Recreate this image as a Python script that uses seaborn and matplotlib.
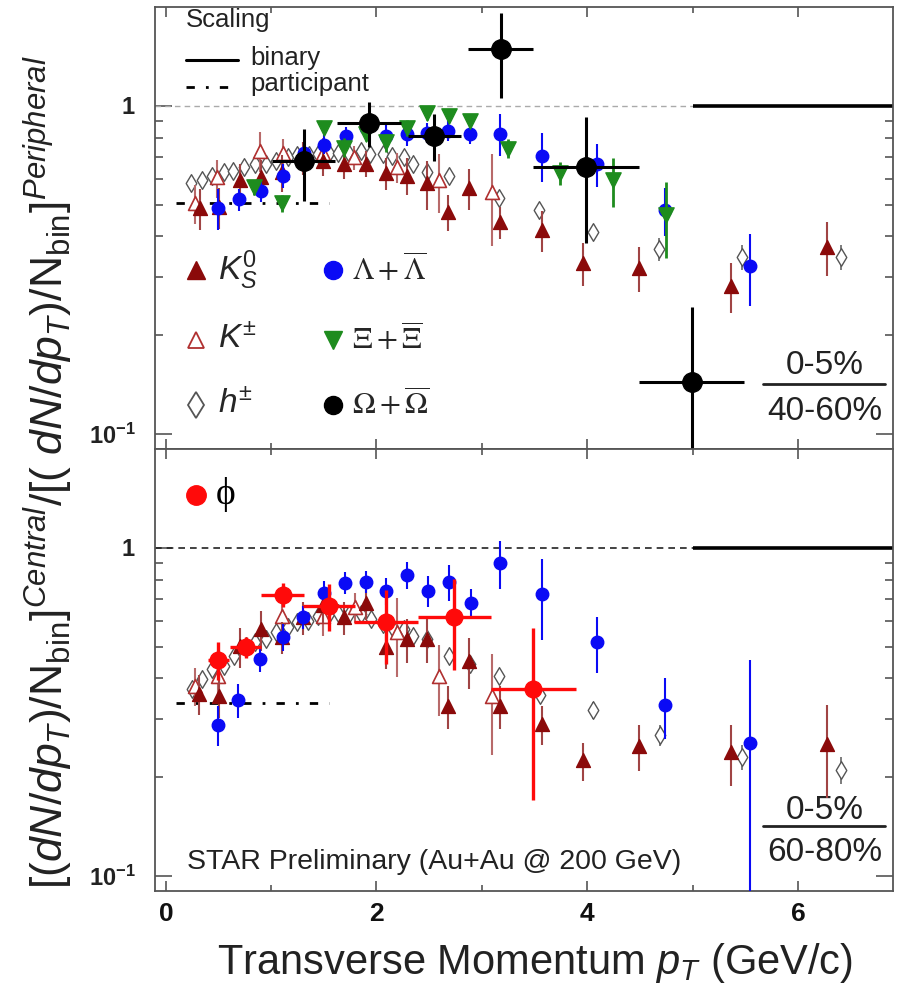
import numpy as np
import pandas as pd
import matplotlib
matplotlib.use("Agg")
import matplotlib.pyplot as plt
import seaborn as sns
from matplotlib.ticker import FixedLocator, FixedFormatter, NullFormatter

# ---------------- data: top panel (0-5% / 40-60%) ----------------
t_k0s_x = [0.33, 0.51, 0.71, 0.91, 1.10, 1.30, 1.49, 1.69, 1.90, 2.09, 2.29, 2.48, 2.68, 2.88, 3.17, 3.57, 3.96, 4.49, 5.36, 6.27]
t_k0s_y = [0.488, 0.49, 0.593, 0.605, 0.627, 0.696, 0.681, 0.667, 0.667, 0.622, 0.613, 0.58, 0.474, 0.56, 0.442, 0.418, 0.332, 0.321, 0.283, 0.372]
t_k0s_e = [0.07, 0.07, 0.07, 0.08, 0.08, 0.08, 0.07, 0.07, 0.06, 0.07, 0.08, 0.10, 0.06, 0.08, 0.05, 0.06, 0.05, 0.05, 0.05, 0.07]

t_kpm_x = [0.28, 0.49, 0.90, 1.11, 1.49, 1.79, 2.20, 2.59, 3.10]
t_kpm_y = [0.505, 0.605, 0.73, 0.72, 0.72, 0.696, 0.65, 0.593, 0.545]
t_kpm_e = [0.07, 0.08, 0.10, 0.07, 0.08, 0.06, 0.07, 0.12, 0.17]

t_h_x = [0.24, 0.35, 0.44, 0.55, 0.64, 0.74, 0.85, 0.95, 1.05, 1.16, 1.25, 1.36, 1.45, 1.55, 1.64, 1.73, 1.85, 1.94, 2.06, 2.15,
         2.26, 2.35, 2.48, 2.69, 3.16, 3.54, 4.05, 4.68, 5.47, 6.41]
t_h_y = [0.58, 0.593, 0.613, 0.627, 0.635, 0.649, 0.667, 0.667, 0.681, 0.696, 0.71, 0.71, 0.715, 0.72, 0.72, 0.725, 0.73, 0.715, 0.715, 0.705,
         0.696, 0.667, 0.627, 0.609, 0.523, 0.481, 0.413, 0.366, 0.346, 0.346]
t_h_e = [0.01] * 24 + [0.02, 0.02, 0.02, 0.03, 0.03, 0.03]

t_lam_x = [0.50, 0.70, 0.91, 1.11, 1.31, 1.50, 1.71, 1.90, 2.09, 2.29, 2.48, 2.68, 2.89, 3.17, 3.57, 4.09, 4.74, 5.54]
t_lam_y = [0.488, 0.519, 0.549, 0.613, 0.72, 0.762, 0.811, 0.858, 0.811, 0.823, 0.828, 0.84, 0.823, 0.823, 0.705, 0.667, 0.481, 0.326]
t_lam_e = [0.07, 0.04, 0.04, 0.05, 0.05, 0.05, 0.05, 0.05, 0.06, 0.07, 0.06, 0.06, 0.06, 0.12, 0.12, 0.10, 0.08, 0.08]

t_xi_x = [0.84, 1.10, 1.50, 1.69, 1.90, 2.09, 2.29, 2.48, 2.69, 2.89, 3.25, 3.74, 4.24, 4.75]
t_xi_y = [0.564, 0.505, 0.858, 0.746, 0.823, 0.773, 0.858, 0.952, 0.933, 0.901, 0.741, 0.622, 0.593, 0.464]
t_xi_e = [0.03, 0.03, 0.04, 0.05, 0.04, 0.05, 0.05, 0.05, 0.04, 0.04, 0.05, 0.05, 0.10, 0.12]

t_om_x = [1.31, 1.93, 2.55, 3.18, 3.99, 4.99]
t_om_y = [0.681, 0.888, 0.811, 1.489, 0.653, 0.144]
t_om_xe = [0.30, 0.30, 0.25, 0.31, 0.50, 0.50]
t_om_ye = [0.17, 0.14, 0.13, 0.43, 0.27, 0.10]

# ---------------- data: bottom panel (0-5% / 60-80%) ----------------
b_k0s_x = [0.32, 0.51, 0.71, 0.91, 1.10, 1.30, 1.49, 1.69, 1.90, 2.09, 2.29, 2.48, 2.68, 2.88, 3.17, 3.57, 3.96, 4.49, 5.36, 6.27]
b_k0s_y = [0.359, 0.354, 0.501, 0.564, 0.534, 0.614, 0.671, 0.614, 0.681, 0.498, 0.526, 0.526, 0.33, 0.451, 0.33, 0.29, 0.225, 0.249, 0.238, 0.253]
b_k0s_e = [0.05, 0.05, 0.07, 0.08, 0.06, 0.07, 0.08, 0.07, 0.08, 0.07, 0.08, 0.08, 0.05, 0.08, 0.05, 0.04, 0.03, 0.04, 0.05, 0.08]

b_kpm_x = [0.28, 0.50, 1.10, 1.49, 1.80, 2.20, 2.59, 3.10]
b_kpm_y = [0.38, 0.407, 0.618, 0.62, 0.66, 0.553, 0.407, 0.354]
b_kpm_e = [0.05, 0.06, 0.08, 0.08, 0.07, 0.15, 0.10, 0.12]

b_h_x = [0.25, 0.35, 0.44, 0.55, 0.65, 0.76, 0.85, 0.95, 1.05, 1.16, 1.25, 1.35, 1.45, 1.55, 1.64, 1.74, 1.85, 1.95, 2.06, 2.15,
         2.26, 2.35, 2.48, 2.69, 2.89, 3.16, 3.55, 4.05, 4.69, 5.47, 6.41]
b_h_y = [0.371, 0.398, 0.427, 0.436, 0.467, 0.501, 0.515, 0.526, 0.553, 0.572, 0.593, 0.597, 0.618, 0.627, 0.635, 0.627, 0.627, 0.605, 0.584, 0.572,
         0.564, 0.538, 0.526, 0.467, 0.442, 0.407, 0.356, 0.32, 0.269, 0.231, 0.21]
b_h_e = [0.01] * 25 + [0.02, 0.02, 0.02, 0.02, 0.02, 0.02]

b_lam_x = [0.50, 0.69, 0.90, 1.11, 1.30, 1.50, 1.70, 1.90, 2.09, 2.29, 2.49, 2.69, 2.90, 3.17, 3.57, 4.09, 4.74, 5.54]
b_lam_y = [0.289, 0.344, 0.458, 0.534, 0.614, 0.73, 0.783, 0.789, 0.741, 0.828, 0.741, 0.789, 0.681, 0.901, 0.725, 0.515, 0.332, 0.255]
b_lam_elo = [0.04, 0.04, 0.04, 0.05, 0.05, 0.06, 0.06, 0.06, 0.07, 0.08, 0.08, 0.10, 0.07, 0.15, 0.20, 0.10, 0.07, 0.25]
b_lam_ehi = [0.04, 0.04, 0.04, 0.05, 0.05, 0.06, 0.06, 0.06, 0.07, 0.08, 0.08, 0.10, 0.07, 0.15, 0.20, 0.10, 0.07, 0.20]

b_phi_x = [0.50, 0.76, 1.11, 1.55, 2.09, 2.74, 3.49]
b_phi_y = [0.455, 0.498, 0.72, 0.667, 0.593, 0.614, 0.371]
b_phi_xe = [0.10, 0.15, 0.20, 0.25, 0.30, 0.35, 0.40]
b_phi_ye = [0.06, 0.035, 0.06, 0.11, 0.15, 0.19, 0.20]

participant_top = 0.505
participant_bot = 0.337
participant_x = [0.1, 1.55]
binary_x = [5.0, 6.9]
dashed_x = [-0.1, 5.0]

x_major = [0, 2, 4, 6]
x_major_labels = [r"$\mathbf{0}$", r"$\mathbf{2}$", r"$\mathbf{4}$", r"$\mathbf{6}$"]
y_major = [0.1, 1.0]
y_major_labels = [r"$\mathbf{10^{-1}}$", r"$\mathbf{1}$"]

# ---------------- style ----------------
sns.set_theme(style="ticks")
plt.rcParams["font.family"] = ["Liberation Sans", "DejaVu Sans"]
plt.rcParams["mathtext.fontset"] = "custom"
plt.rcParams["mathtext.rm"] = "Liberation Sans"
plt.rcParams["mathtext.it"] = "Liberation Sans:italic"
plt.rcParams["mathtext.bf"] = "Liberation Sans:bold"

C_K0S = "#8B0A0A"
C_K0S_E = "#A04444"
C_KPM = "#B03030"
C_KPM_E = "#B86A6A"
C_H = "#555555"
C_LAM = "#0A0AF5"
C_XI = "#1E8C1E"
C_PHI = "#FF0A0A"
SPINE = "#555555"
TXT = "#222222"

fig = plt.figure(figsize=(8.97, 9.94), dpi=100)
W, H = 897.0, 994.0
ax_t = fig.add_axes([155 / W, 1 - 449 / H, 738 / W, 442 / H])
ax_b = fig.add_axes([155 / W, 1 - 891 / H, 738 / W, 442 / H])


def series(ax, x, y, yerr, marker, fc, ec, ecol, ms, lw_e=1.5, xerr=None, z=3, mew=1.0):
    ax.errorbar(x, y, yerr=yerr, xerr=xerr, fmt="none", ecolor=ecol, elinewidth=lw_e, capsize=0, zorder=z)
    sns.scatterplot(x=x, y=y, ax=ax, marker=marker, s=ms ** 2, color=fc, edgecolor=ec,
                    linewidth=mew, zorder=z + 0.5, legend=False)


for ax in (ax_t, ax_b):
    ax.set_yscale("log")
    ax.set_xlim(-0.1, 6.9)
    ax.set_ylim(0.09, 2.0)
    for s in ax.spines.values():
        s.set_color(SPINE)
        s.set_linewidth(1.3)
    ax.xaxis.set_major_locator(FixedLocator(x_major))
    ax.xaxis.set_major_formatter(FixedFormatter(x_major_labels))
    ax.xaxis.set_minor_locator(FixedLocator([1, 3, 5]))
    ax.yaxis.set_major_locator(FixedLocator(y_major))
    ax.yaxis.set_minor_locator(FixedLocator([0.2, 0.3, 0.4, 0.5, 0.6, 0.7, 0.8, 0.9]))
    ax.yaxis.set_major_formatter(FixedFormatter(y_major_labels))
    ax.yaxis.set_minor_formatter(NullFormatter())
    ax.tick_params(axis="x", which="both", direction="in", top=True, bottom=True, color=SPINE, width=1.2)
    ax.tick_params(axis="x", which="major", length=7)
    ax.tick_params(axis="x", which="minor", length=4.5)
    ax.tick_params(axis="y", which="both", direction="in", left=True, right=True, color=SPINE, width=1.2)
    ax.tick_params(axis="y", which="major", length=12, labelsize=17, pad=14, labelcolor=TXT)
    ax.tick_params(axis="y", which="minor", length=6)
    ax.set_xlabel("")
    ax.set_ylabel("")

ax_t.tick_params(axis="x", labelbottom=False)
ax_b.tick_params(axis="x", which="major", labelsize=19, pad=8, labelcolor="#111111")

# reference lines
ax_t.plot(dashed_x, [1, 1], color="#aaaaaa", lw=1.0, ls=(0, (4, 3)), zorder=1)
ax_b.plot(dashed_x, [1, 1], color="#222222", lw=1.2, ls=(0, (4, 3)), zorder=1)
for ax in (ax_t, ax_b):
    ax.plot(binary_x, [1, 1], color="black", lw=2.6, zorder=1, solid_capstyle="butt")
ax_t.plot(participant_x, [participant_top] * 2, color="black", lw=2.0, ls=(0, (3, 4, 1, 4)), zorder=1)
ax_b.plot(participant_x, [participant_bot] * 2, color="black", lw=2.0, ls=(0, (3, 4, 1, 4)), zorder=1)

# top panel data
series(ax_t, t_h_x, t_h_y, t_h_e, "d", "white", C_H, "#666666", 9, lw_e=1.2, z=3)
series(ax_t, t_kpm_x, t_kpm_y, t_kpm_e, "^", "white", C_KPM, C_KPM_E, 10, lw_e=1.5, z=4, mew=1.2)
series(ax_t, t_k0s_x, t_k0s_y, t_k0s_e, "^", C_K0S, C_K0S, C_K0S_E, 10, lw_e=1.5, z=5)
series(ax_t, t_lam_x, t_lam_y, t_lam_e, "o", C_LAM, C_LAM, C_LAM, 9, lw_e=1.5, z=6)
series(ax_t, t_xi_x, t_xi_y, t_xi_e, "v", C_XI, C_XI, C_XI, 11, lw_e=2.0, z=7)
series(ax_t, t_om_x, t_om_y, t_om_ye, "o", "black", "black", "black", 14, lw_e=2.2, xerr=t_om_xe, z=8)

# bottom panel data
series(ax_b, b_h_x, b_h_y, b_h_e, "d", "white", C_H, "#666666", 9, lw_e=1.2, z=3)
series(ax_b, b_kpm_x, b_kpm_y, b_kpm_e, "^", "white", C_KPM, C_KPM_E, 10, lw_e=1.5, z=4, mew=1.2)
series(ax_b, b_k0s_x, b_k0s_y, b_k0s_e, "^", C_K0S, C_K0S, C_K0S_E, 10, lw_e=1.5, z=5)
series(ax_b, b_lam_x, b_lam_y, [b_lam_elo, b_lam_ehi], "o", C_LAM, C_LAM, C_LAM, 9, lw_e=1.5, z=6)
series(ax_b, b_phi_x, b_phi_y, b_phi_ye, "o", C_PHI, C_PHI, C_PHI, 12, lw_e=2.4, xerr=b_phi_xe, z=8)

# ---------------- legends / annotations (top) ----------------
T = ax_t.transAxes
ax_t.text(0.042, 0.971, "Scaling", transform=T, fontsize=18.5, va="center", ha="left", color=TXT)
ax_t.plot([0.042, 0.112], [0.880, 0.880], transform=T, color="black", lw=2.2)
ax_t.text(0.129, 0.885, "binary", transform=T, fontsize=18.5, va="center", ha="left", color=TXT)
ax_t.plot([0.042, 0.106], [0.819, 0.819], transform=T, color="black", lw=2.0, ls=(0, (3, 4, 1, 4)))
ax_t.text(0.129, 0.826, "participant", transform=T, fontsize=18.5, va="center", ha="left", color=TXT)

leg_rows = [0.405, 0.247, 0.100]
ax_t.plot([0.0556], [leg_rows[0]], transform=T, marker="^", ms=13, color=C_K0S, ls="none")
ax_t.plot([0.0556], [leg_rows[1]], transform=T, marker="^", ms=12, mfc="white", mec=C_KPM, mew=1.3, ls="none")
ax_t.plot([0.0556], [leg_rows[2]], transform=T, marker="d", ms=13, mfc="white", mec=C_H, mew=1.3, ls="none")
ax_t.text(0.085, leg_rows[0], r"$K^{0}_{S}$", transform=T, fontsize=24, va="center", ha="left")
ax_t.text(0.085, leg_rows[1], r"$K^{\pm}$", transform=T, fontsize=24, va="center", ha="left")
ax_t.text(0.085, leg_rows[2], r"$h^{\pm}$", transform=T, fontsize=24, va="center", ha="left")
ax_t.plot([0.241], [leg_rows[0]], transform=T, marker="o", ms=13, color=C_LAM, ls="none")
ax_t.plot([0.241], [leg_rows[1]], transform=T, marker="v", ms=13, color=C_XI, ls="none")
ax_t.plot([0.241], [leg_rows[2]], transform=T, marker="o", ms=13, color="black", ls="none")
ax_t.text(0.267, leg_rows[0], r"$\Lambda+\overline{\Lambda}$", transform=T, fontsize=22, va="center", ha="left", math_fontfamily="stix")
ax_t.text(0.267, leg_rows[1], r"$\Xi+\overline{\Xi}$", transform=T, fontsize=22, va="center", ha="left", math_fontfamily="stix")
ax_t.text(0.267, leg_rows[2], r"$\Omega+\overline{\Omega}$", transform=T, fontsize=22, va="center", ha="left", math_fontfamily="stix")

ax_t.text(0.908, 0.19, "0-5%", transform=T, fontsize=24, va="center", ha="center", color=TXT)
ax_t.plot([0.824, 0.989], [0.147, 0.147], transform=T, color=TXT, lw=2.0)
ax_t.text(0.908, 0.084, "40-60%", transform=T, fontsize=24, va="center", ha="center", color=TXT)

# ---------------- annotations (bottom) ----------------
B = ax_b.transAxes
ax_b.plot([0.0556], [0.896], transform=B, marker="o", ms=14, color=C_PHI, ls="none")
ax_b.text(0.082, 0.896, "\u03d5", transform=B, fontsize=27, va="center", ha="left",
          family=["Liberation Serif", "DejaVu Serif"], color="black")
ax_b.text(0.908, 0.183, "0-5%", transform=B, fontsize=24, va="center", ha="center", color=TXT)
ax_b.plot([0.824, 0.989], [0.147, 0.147], transform=B, color=TXT, lw=2.0)
ax_b.text(0.908, 0.088, "60-80%", transform=B, fontsize=24, va="center", ha="center", color=TXT)
ax_b.text(0.043, 0.066, "STAR Preliminary (Au+Au @ 200 GeV)", transform=B, fontsize=20.5, va="center", ha="left", color=TXT)

# axis labels
fig.text(535 / W, 1 - 963 / H, r"Transverse Momentum $p_T$ (GeV/c)", fontsize=30, ha="center", va="center", color=TXT)
fig.text(48 / W, 1 - 472 / H,
         r"$[(dN/dp_T)/\mathrm{N_{bin}}]^{Central}/[(\ dN/dp_T)/\mathrm{N_{bin}}]^{Peripheral}$",
         fontsize=32, rotation=90, ha="center", va="center", color=TXT)

fig.savefig("out.png", dpi=100)
